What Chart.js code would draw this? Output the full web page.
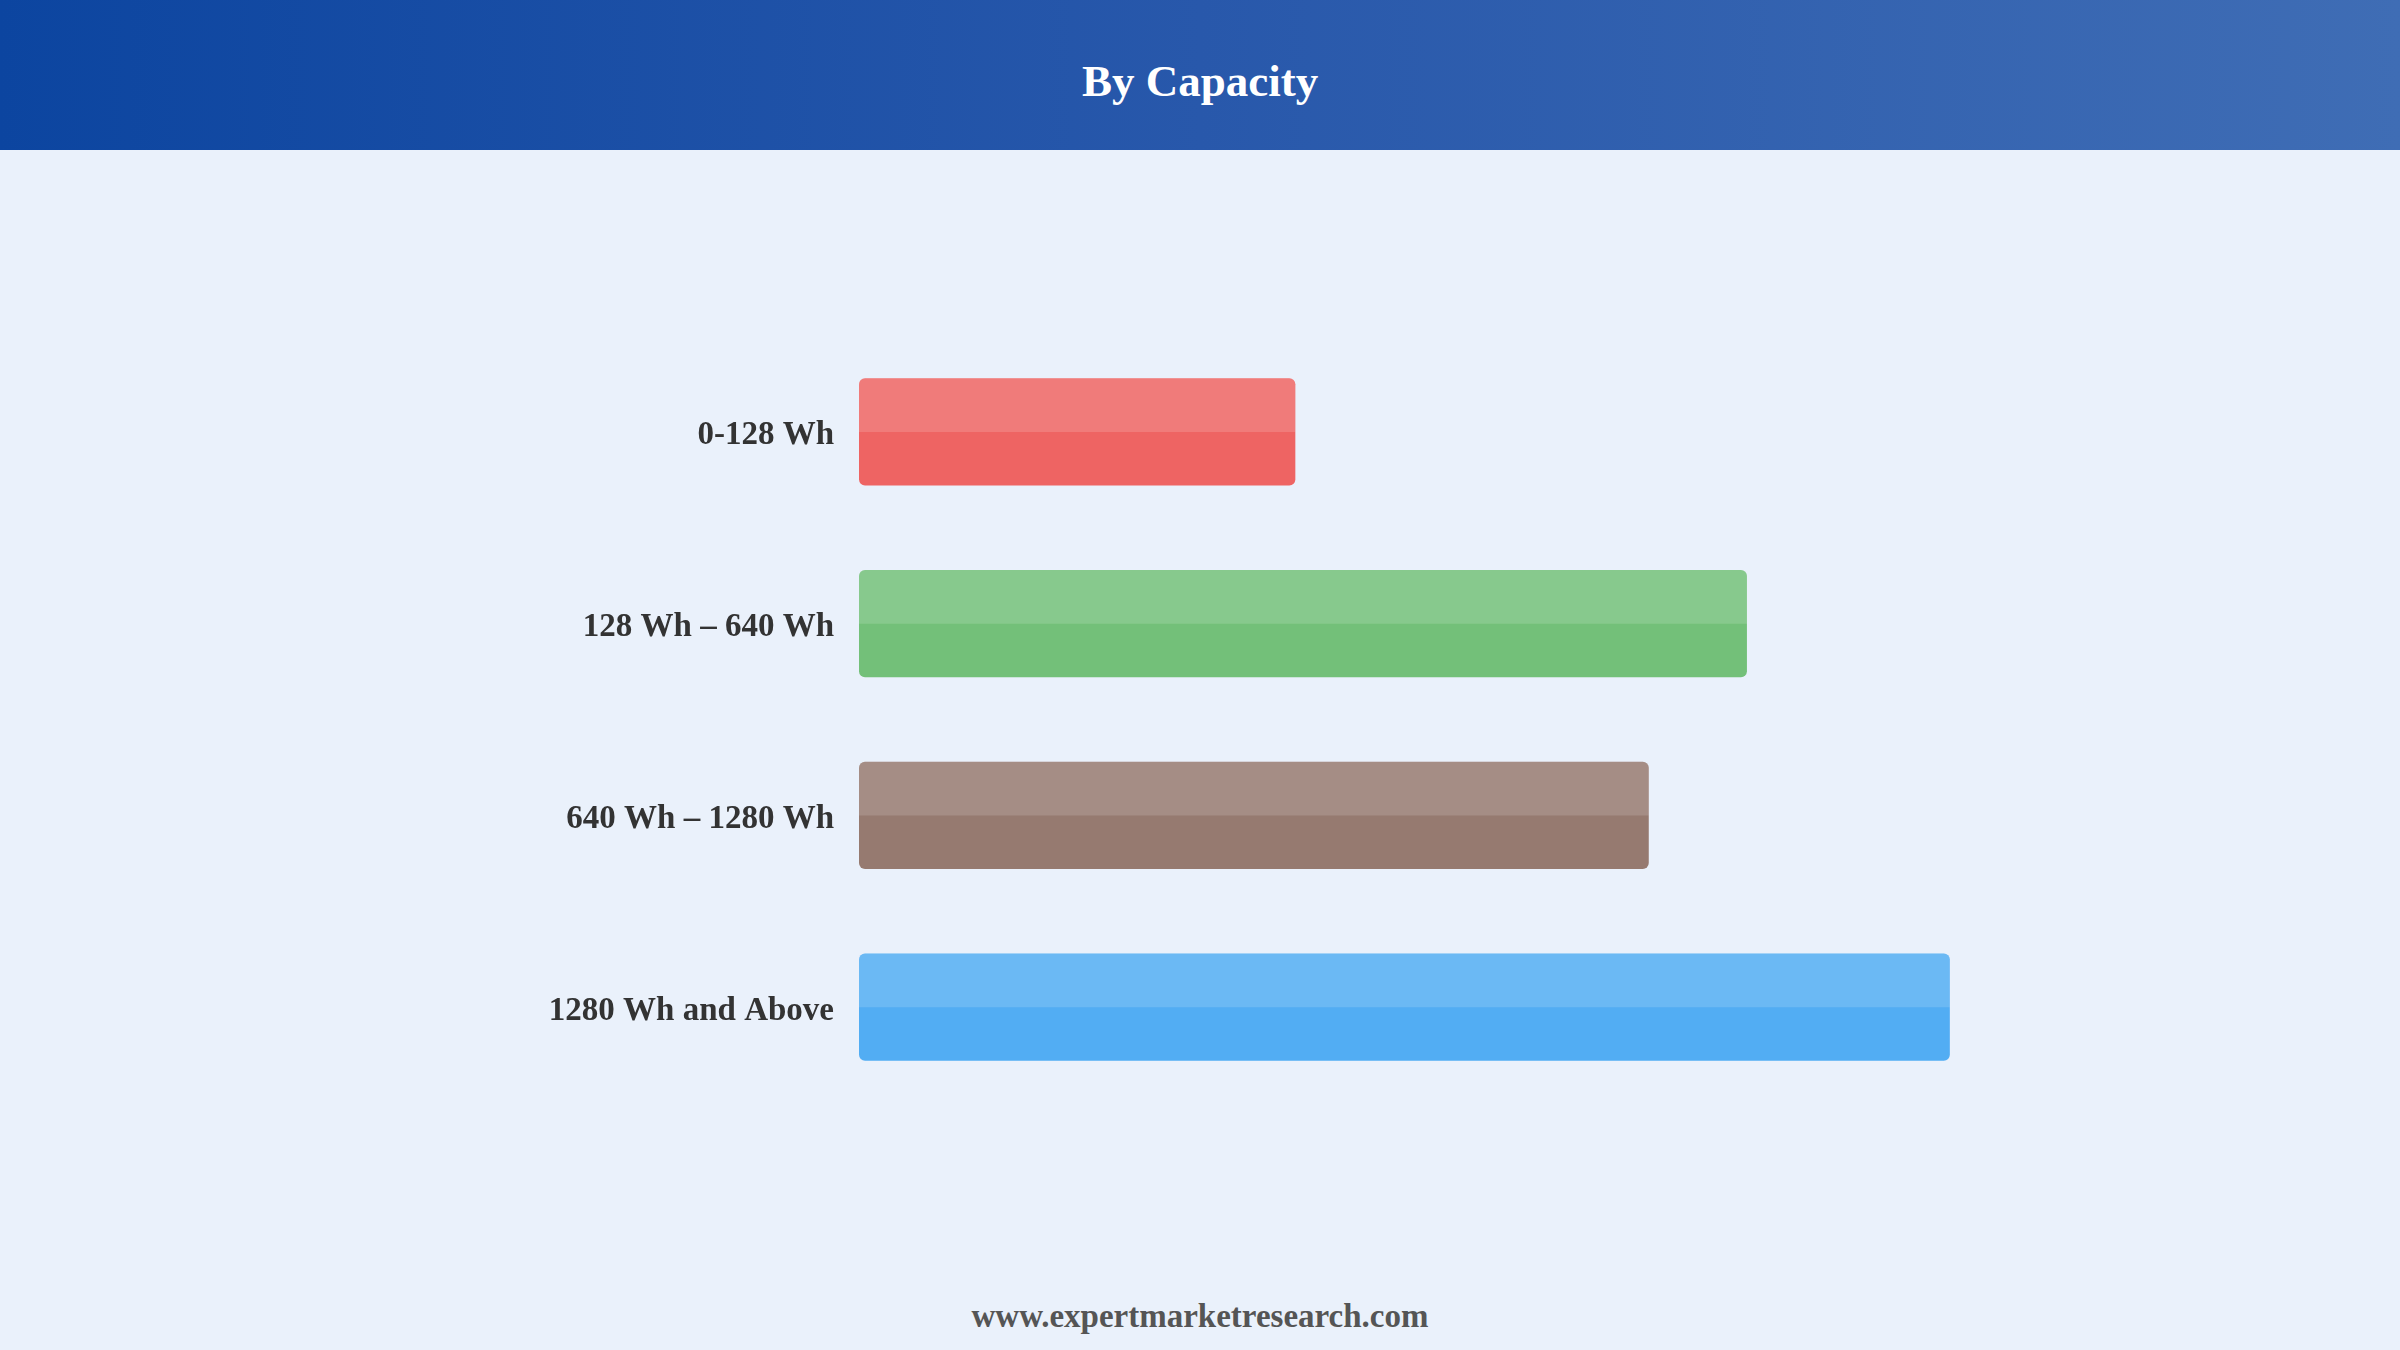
<!DOCTYPE html>
<html>
<head>
<meta charset="utf-8">
<title>By Capacity</title>
<script src="https://cdn.jsdelivr.net/npm/chart.js@4"></script>
<style>
    html, body {
        margin: 0;
        padding: 0;
        width: 2400px;
        height: 1350px;
        overflow: hidden;
        background: #eaf1fb;
        font-family: "Liberation Serif", "Times New Roman", serif;
    }
    .header {
        position: absolute;
        left: 0;
        top: 0;
        width: 2400px;
        height: 150px;
        background: linear-gradient(to right, #0c45a0, #2858ab 50%, #3f6db5);
        color: #fff;
        font-weight: bold;
        font-size: 45px;
        text-align: center;
        line-height: 162px;
    }
    #chart {
        position: absolute;
        left: 0;
        top: 150px;
    }
    .footer {
        position: absolute;
        left: 0;
        top: 1298px;
        width: 2400px;
        text-align: center;
        font-weight: bold;
        font-size: 33px;
        color: #555;
    }
</style>
</head>
<body>
<div class="header">By Capacity</div>
<canvas id="chart" width="2400" height="1000"></canvas>
<div class="footer">www.expertmarketresearch.com</div>

<script>
// Data (relative bar lengths, no axis shown)
const categories = ['0-128 Wh', '128 Wh – 640 Wh', '640 Wh – 1280 Wh', '1280 Wh and Above'];
const values = [40, 81.4, 72.4, 100];
const barColors = ['#ee6463', '#73c079', '#967a70', '#52adf3'];

// Lighter top half on every bar (the glossy look)
const glossPlugin = {
    id: 'gloss',
    afterDatasetsDraw(chart) {
        const ctx = chart.ctx;
        chart.getDatasetMeta(0).data.forEach(bar => {
            const top = bar.y - bar.height / 2;
            const left = Math.min(bar.x, bar.base);
            const w = Math.abs(bar.x - bar.base);
            ctx.save();
            ctx.fillStyle = 'rgba(255,255,255,0.15)';
            ctx.beginPath();
            ctx.roundRect(left, top, w, bar.height / 2, [6, 6, 0, 0]);
            ctx.fill();
            ctx.restore();
        });
    }
};

new Chart(document.getElementById('chart'), {
    type: 'bar',
    data: {
        labels: categories,
        datasets: [{
            data: values,
            backgroundColor: barColors,
            borderWidth: 0,
            borderRadius: 6,
            borderSkipped: false,
            barPercentage: 0.7,
            categoryPercentage: 0.8
        }]
    },
    options: {
        indexAxis: 'y',
        responsive: false,
        animation: false,
        layout: {
            padding: { top: 186, bottom: 47, left: 0, right: 232 }
        },
        plugins: {
            legend: { display: false },
            tooltip: { enabled: false }
        },
        scales: {
            x: {
                display: false,
                min: 0,
                max: 120
            },
            y: {
                grid: { display: false, drawTicks: false },
                border: { display: false },
                ticks: {
                    padding: 25,
                    labelOffset: 4,
                    color: '#333',
                    font: {
                        family: '"Liberation Serif", "Times New Roman", serif',
                        size: 33,
                        weight: 'bold'
                    }
                },
                afterFit(scale) {
                    scale.width = 859; // bars start here
                }
            }
        }
    },
    plugins: [glossPlugin]
});
</script>
</body>
</html>
